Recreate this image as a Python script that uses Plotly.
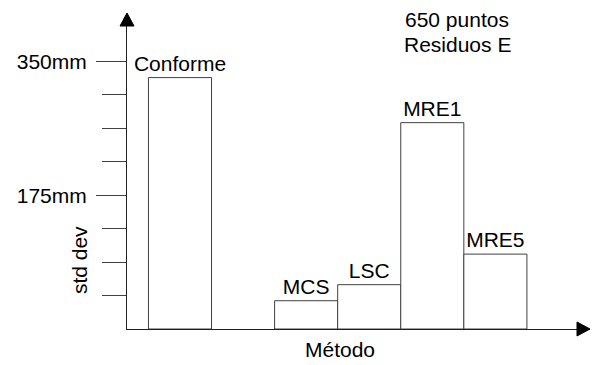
import plotly.graph_objects as go

# Data (std dev, mm)
categories = ["Conforme", "MCS", "LSC", "MRE1", "MRE5"]
values = [329, 37, 58, 270, 98]
slot_order = ["Conforme", " ", "MCS", "LSC", "MRE1", "MRE5"]
major_ticks = [175, 350]
major_labels = ["175mm", "350mm"]
minor_ticks = [43.75, 87.5, 131.25, 218.75, 262.5, 306.25]

FONT = "Arial, Liberation Sans, sans-serif"
FS = 21

fig = go.Figure(
    go.Bar(
        x=categories,
        y=values,
        width=1.0,
        marker=dict(color="white", line=dict(color="#404040", width=1)),
        text=categories,
        textposition="outside",
        constraintext="none",
        cliponaxis=False,
        textfont=dict(family=FONT, size=FS, color="black"),
        hoverinfo="skip",
    )
)

fig.update_layout(
    width=592,
    height=365,
    margin=dict(l=127, r=2, t=13, b=36),
    paper_bgcolor="white",
    plot_bgcolor="white",
    showlegend=False,
    font=dict(family=FONT, size=FS, color="black"),
    xaxis=dict(
        type="category",
        categoryorder="array",
        categoryarray=slot_order,
        range=[-0.84, 6.5],
        showticklabels=False,
        ticks="",
        showgrid=False,
        zeroline=False,
        showline=True,
        linecolor="#202020",
        linewidth=1,
        fixedrange=True,
    ),
    yaxis=dict(
        range=[0, 413.5],
        tickmode="array",
        tickvals=major_ticks,
        ticktext=major_labels,
        ticks="outside",
        ticklen=30,
        tickcolor="#404040",
        tickwidth=1,
        ticklabelstandoff=5,
        tickfont=dict(family=FONT, size=FS, color="black"),
        minor=dict(
            tickmode="array",
            tickvals=minor_ticks,
            ticks="outside",
            ticklen=24,
            tickcolor="#404040",
            tickwidth=1,
            showgrid=False,
        ),
        showgrid=False,
        zeroline=False,
        showline=True,
        linecolor="#202020",
        linewidth=1,
        fixedrange=True,
    ),
    shapes=[
        dict(
            type="path",
            xref="paper", yref="paper",
            xsizemode="pixel", ysizemode="pixel",
            xanchor=0, yanchor=1,
            path="M -7,-13 L 7,-13 L 0,0 Z",
            fillcolor="black",
            line=dict(color="black", width=1),
        ),
        dict(
            type="path",
            xref="paper", yref="paper",
            xsizemode="pixel", ysizemode="pixel",
            xanchor=1, yanchor=0,
            path="M -13,-7 L -13,7 L 0,0 Z",
            fillcolor="black",
            line=dict(color="black", width=1),
        ),
    ],
    annotations=[
        dict(text="std dev", xref="paper", yref="paper", x=-0.103, y=0.219,
             textangle=-90, showarrow=False, xanchor="center", yanchor="middle",
             font=dict(family=FONT, size=FS, color="black")),
        dict(text="Método", xref="paper", yref="paper", x=0.459, y=-0.0654,
             showarrow=False, xanchor="center", yanchor="middle",
             font=dict(family=FONT, size=FS, color="black")),
        dict(text="650 puntos", xref="paper", yref="paper", x=0.713, y=0.980,
             showarrow=False, xanchor="center", yanchor="middle",
             font=dict(family=FONT, size=FS, color="black")),
        dict(text="Residuos E", xref="paper", yref="paper", x=0.713, y=0.901,
             showarrow=False, xanchor="center", yanchor="middle",
             font=dict(family=FONT, size=FS, color="black")),
    ],
)

fig.write_html("out.html")
